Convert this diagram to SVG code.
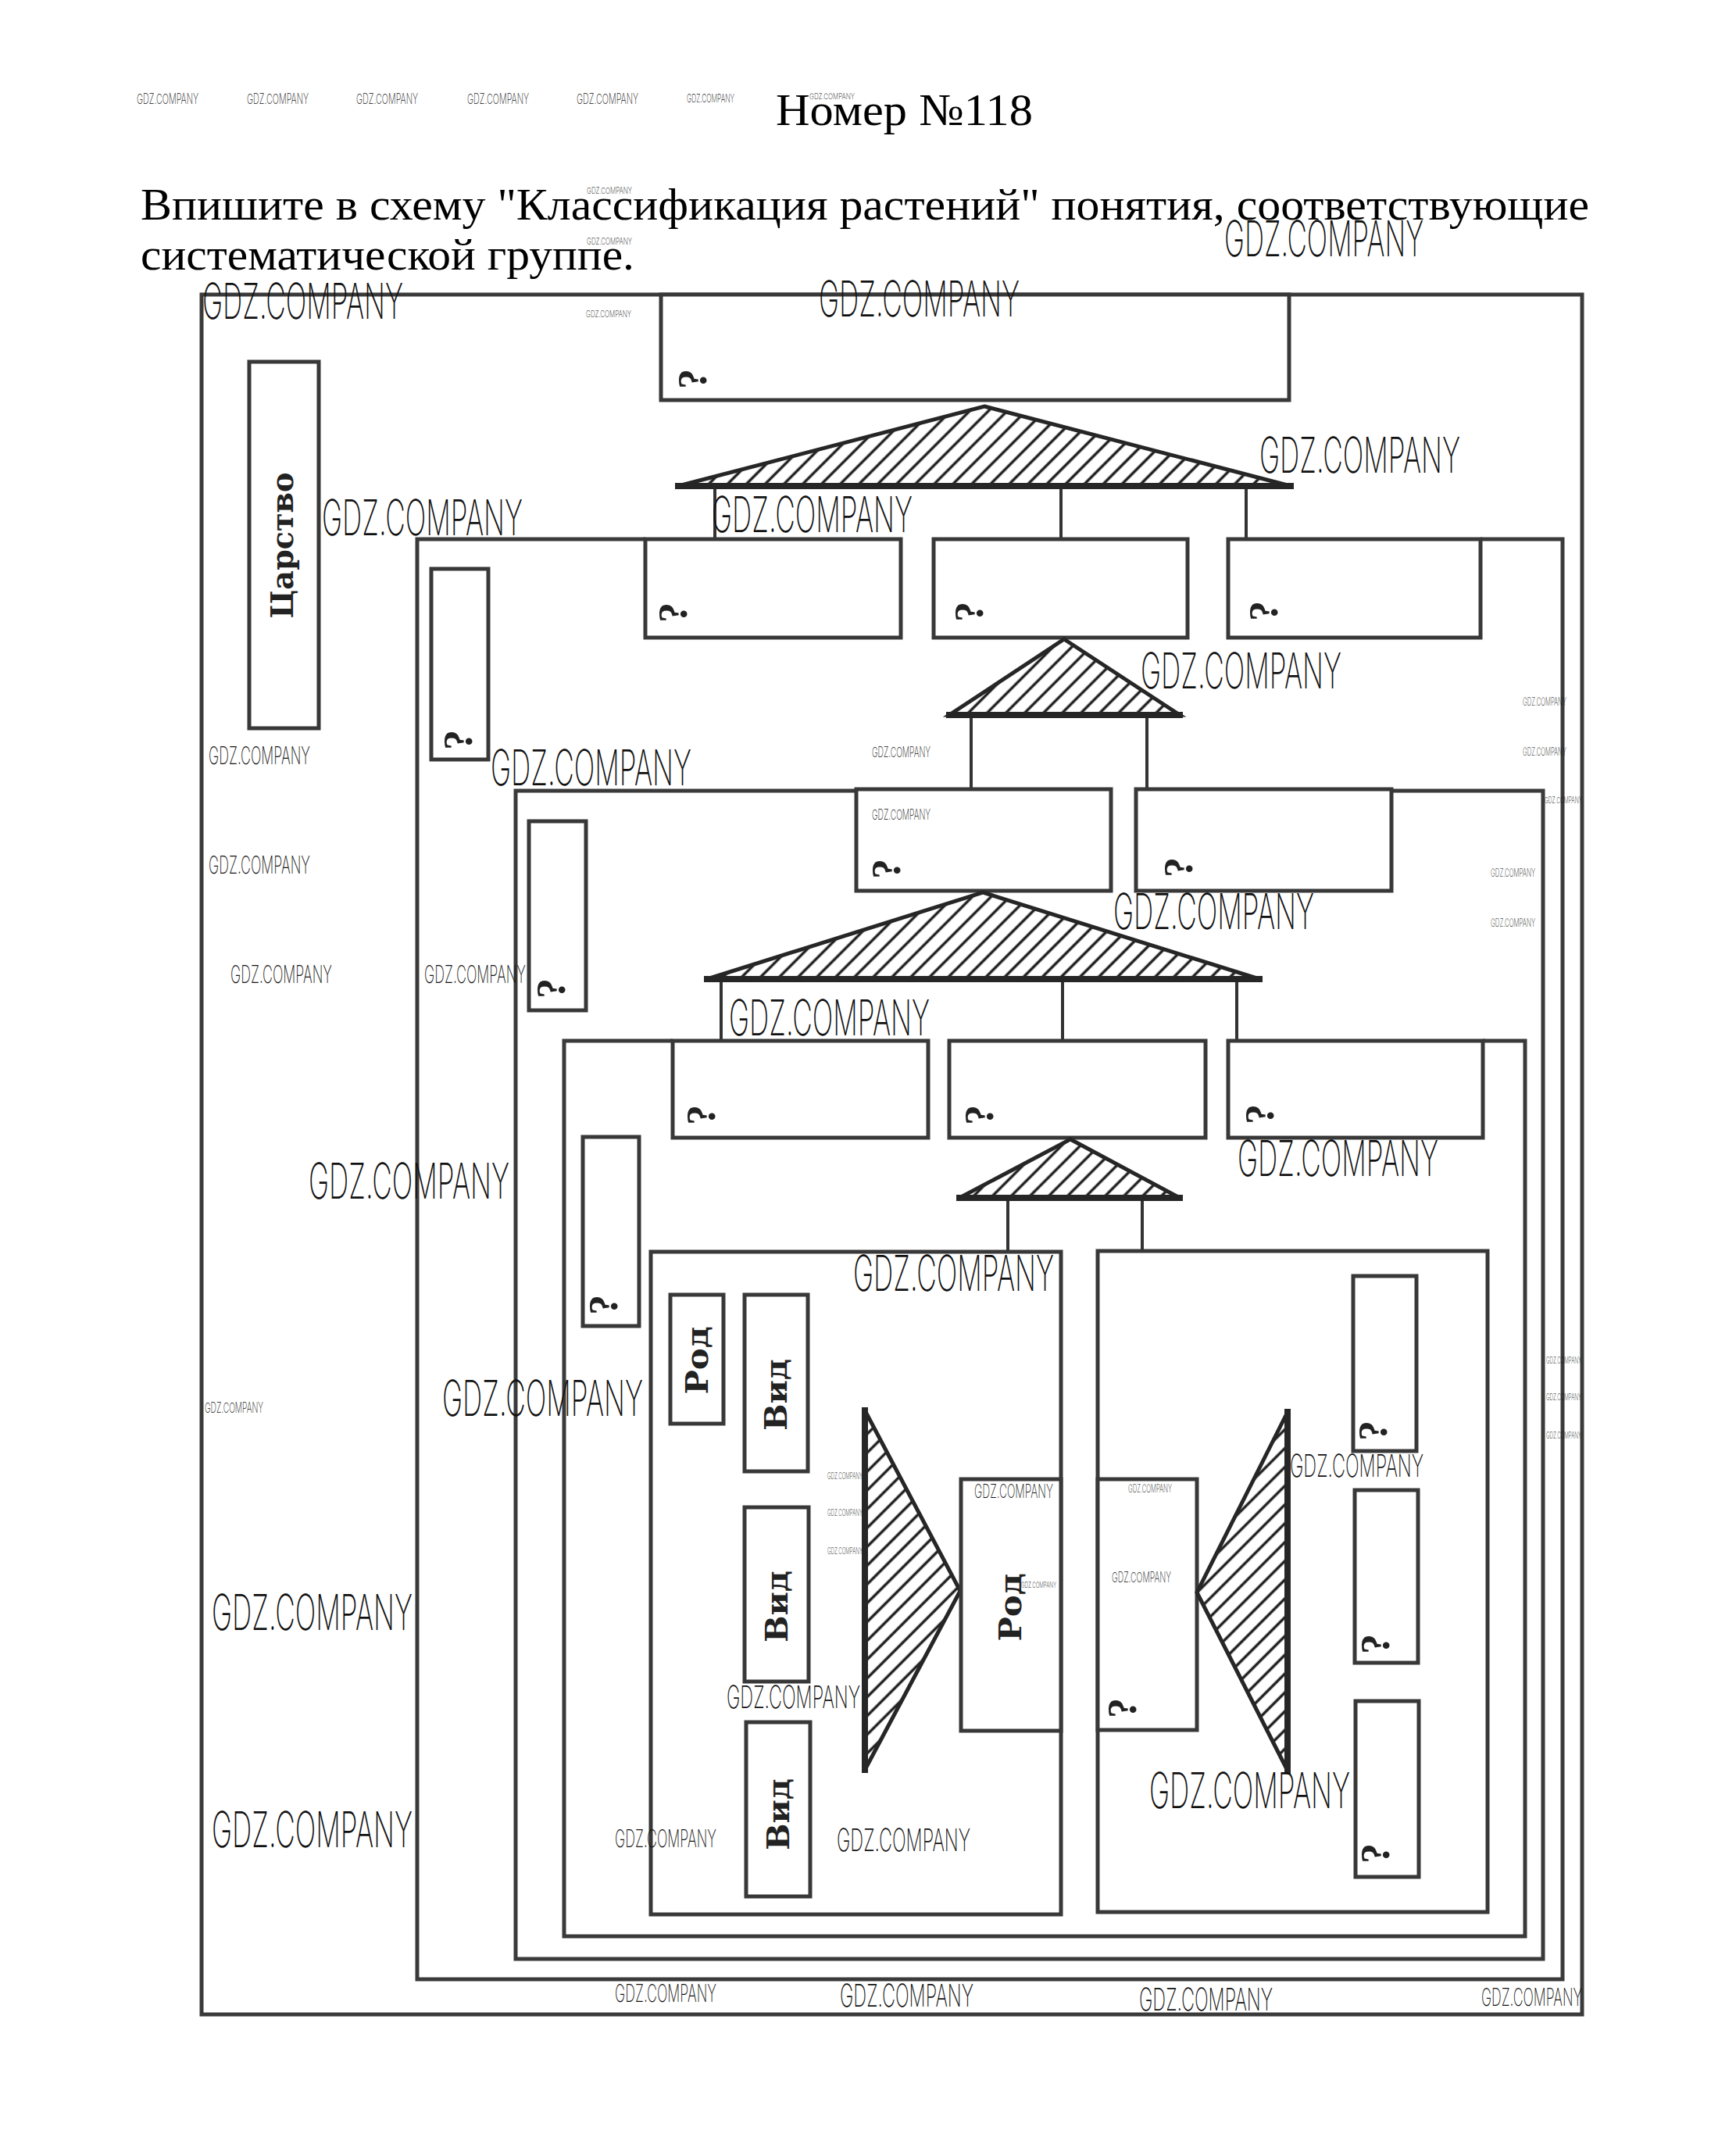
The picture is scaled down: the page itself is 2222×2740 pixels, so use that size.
<svg xmlns="http://www.w3.org/2000/svg" width="2222" height="2740" viewBox="0 0 2222 2740">
<defs>
<style>
.frame{fill:none;stroke:#3a3a3a;stroke-width:5}
.box{fill:#fff;stroke:#383838;stroke-width:5}
.conn{fill:none;stroke:#333;stroke-width:4}
.tri{fill:url(#hatch);stroke:#262626;stroke-width:5;stroke-linejoin:miter}
.base{stroke:#262626;stroke-width:8}
.q{font-family:"Liberation Serif","Times New Roman",serif;font-weight:bold;font-size:52px;fill:#222}
.lbl{font-family:"DejaVu Serif","Liberation Serif",serif;font-weight:bold;font-size:40px;fill:#222}
.h{font-family:"Liberation Serif","Times New Roman",serif;fill:#000}
.wm{font-family:Inter,"Liberation Sans",Arial,sans-serif;font-weight:200;fill:#111}
.wl{font-size:63px}
.wmd{font-size:40px}
.ws{font-size:31px}
.wt{font-size:18px}
.wx{font-size:12px}
</style>
<pattern id="hatch" patternUnits="userSpaceOnUse" width="17" height="17" patternTransform="rotate(45)">
<line x1="8.5" y1="-2" x2="8.5" y2="19" stroke="#222" stroke-width="3.5"/>
</pattern>
</defs>
<rect width="2222" height="2740" fill="#fff"/>

<g id="heading">
<text class="h" x="993" y="160" font-size="58" textLength="329" lengthAdjust="spacingAndGlyphs">Номер №118</text>
<text class="h" x="180" y="281" font-size="57" textLength="1854" lengthAdjust="spacingAndGlyphs">Впишите в схему "Классификация растений" понятия, соответствующие</text>
<text class="h" x="180" y="345" font-size="57" textLength="632" lengthAdjust="spacingAndGlyphs">систематической группе.</text>
</g>

<g id="frames">
<rect id="frame-kingdom" class="frame" x="258" y="377" width="1767" height="2201"/>
<path id="frame-1" class="frame" d="M826 690 H534 V2533 H2000 V690 H1895"/>
<path id="frame-2" class="frame" d="M1096 1012 H660 V2507 H1975 V1012 H1781"/>
<path id="frame-3" class="frame" d="M861 1332 H722 V2478 H1952 V1332 H1898"/>
</g>

<g id="connectors">
<line class="conn" x1="915" y1="622" x2="915" y2="690"/>
<line class="conn" x1="1358" y1="622" x2="1358" y2="690"/>
<line class="conn" x1="1595" y1="622" x2="1595" y2="690"/>
<line class="conn" x1="1243" y1="915" x2="1243" y2="1010"/>
<line class="conn" x1="1468" y1="915" x2="1468" y2="1010"/>
<line class="conn" x1="923" y1="1253" x2="923" y2="1332"/>
<line class="conn" x1="1360" y1="1253" x2="1360" y2="1332"/>
<line class="conn" x1="1583" y1="1253" x2="1583" y2="1332"/>
<line class="conn" x1="1290" y1="1533" x2="1290" y2="1602"/>
<line class="conn" x1="1462" y1="1533" x2="1462" y2="1601"/>
<line class="conn" x1="1034" y1="1848" x2="1107" y2="1848"/>
<line class="conn" x1="1035" y1="2041" x2="1107" y2="2041"/>
<line class="conn" x1="1037" y1="2233" x2="1107" y2="2233"/>
<line class="conn" x1="1648" y1="1844" x2="1732" y2="1844"/>
<line class="conn" x1="1648" y1="2038" x2="1734" y2="2038"/>
<line class="conn" x1="1648" y1="2233" x2="1735" y2="2233"/>
</g>

<g id="kingdom">
<rect class="box" x="319" y="463" width="89" height="469"/>
<text class="lbl" transform="translate(361,698) rotate(-90)" text-anchor="middle" dy="0.36em" textLength="187" lengthAdjust="spacingAndGlyphs">Царство</text>
</g>

<g id="box-top">
<rect class="box" x="846" y="377" width="804" height="135"/>
<text class="q" transform="translate(886,485) rotate(-90)" text-anchor="middle" dy="0.34em">?</text>
</g>

<g id="tri-1">
<polygon class="tri" points="1260,520 1652,622 868,622"/>
<line class="base" x1="864" y1="622" x2="1656" y2="622"/>
</g>

<g id="box-a"><rect class="box" x="826" y="690" width="327" height="126"/><text class="q" transform="translate(861,784) rotate(-90)" text-anchor="middle" dy="0.34em">?</text></g>
<g id="box-b"><rect class="box" x="1195" y="690" width="325" height="126"/><text class="q" transform="translate(1240,783) rotate(-90)" text-anchor="middle" dy="0.34em">?</text></g>
<g id="box-c"><rect class="box" x="1572" y="690" width="323" height="126"/><text class="q" transform="translate(1617,782) rotate(-90)" text-anchor="middle" dy="0.34em">?</text></g>

<g id="side-1"><rect class="box" x="552" y="728" width="73" height="244"/><text class="q" transform="translate(586,947) rotate(-90)" text-anchor="middle" dy="0.34em">?</text></g>

<g id="tri-2">
<polygon class="tri" points="1362,818 1510,915 1215,915"/>
<line class="base" x1="1211" y1="915" x2="1514" y2="915"/>
</g>

<g id="box-d"><rect class="box" x="1096" y="1010" width="326" height="130"/><text class="q" transform="translate(1134,1112) rotate(-90)" text-anchor="middle" dy="0.34em">?</text></g>
<g id="box-e"><rect class="box" x="1454" y="1010" width="327" height="130"/><text class="q" transform="translate(1508,1110) rotate(-90)" text-anchor="middle" dy="0.34em">?</text></g>

<g id="side-2"><rect class="box" x="677" y="1051" width="73" height="242"/><text class="q" transform="translate(705,1265) rotate(-90)" text-anchor="middle" dy="0.34em">?</text></g>

<g id="tri-3">
<polygon class="tri" points="1258,1142 1612,1253 905,1253"/>
<line class="base" x1="901" y1="1253" x2="1616" y2="1253"/>
</g>

<g id="box-f"><rect class="box" x="861" y="1332" width="327" height="124"/><text class="q" transform="translate(897,1427) rotate(-90)" text-anchor="middle" dy="0.34em">?</text></g>
<g id="box-g"><rect class="box" x="1215" y="1332" width="328" height="124"/><text class="q" transform="translate(1253,1427) rotate(-90)" text-anchor="middle" dy="0.34em">?</text></g>
<g id="box-h"><rect class="box" x="1572" y="1332" width="326" height="124"/><text class="q" transform="translate(1612,1426) rotate(-90)" text-anchor="middle" dy="0.34em">?</text></g>

<g id="side-3"><rect class="box" x="746" y="1455" width="72" height="242"/><text class="q" transform="translate(772,1670) rotate(-90)" text-anchor="middle" dy="0.34em">?</text></g>

<g id="tri-4">
<polygon class="tri" points="1370,1458 1510,1533 1228,1533"/>
<line class="base" x1="1224" y1="1533" x2="1514" y2="1533"/>
</g>

<g id="genus-left">
<rect class="box" x="833" y="1602" width="525" height="848"/>
</g>
<g id="genus-right">
<rect class="box" x="1405" y="1601" width="499" height="846"/>
</g>

<g id="rod-small"><rect class="box" x="858" y="1657" width="68" height="165"/><text class="lbl" transform="translate(892,1741) rotate(-90)" text-anchor="middle" dy="0.36em" textLength="87" lengthAdjust="spacingAndGlyphs">Род</text></g>
<g id="vid-1"><rect class="box" x="953" y="1657" width="81" height="226"/><text class="lbl" transform="translate(993,1785) rotate(-90)" text-anchor="middle" dy="0.36em" textLength="92" lengthAdjust="spacingAndGlyphs">Вид</text></g>
<g id="vid-2"><rect class="box" x="953" y="1929" width="82" height="223"/><text class="lbl" transform="translate(994,2056) rotate(-90)" text-anchor="middle" dy="0.36em" textLength="92" lengthAdjust="spacingAndGlyphs">Вид</text></g>
<g id="vid-3"><rect class="box" x="955" y="2204" width="82" height="223"/><text class="lbl" transform="translate(996,2322) rotate(-90)" text-anchor="middle" dy="0.36em" textLength="92" lengthAdjust="spacingAndGlyphs">Вид</text></g>

<g id="tri-5">
<polygon class="tri" points="1107,1805 1229,2036 1107,2265"/>
<line class="base" x1="1107" y1="1801" x2="1107" y2="2269"/>
</g>

<g id="rod-big"><rect class="box" x="1230" y="1893" width="128" height="322"/><text class="lbl" transform="translate(1293,2057) rotate(-90)" text-anchor="middle" dy="0.36em" textLength="87" lengthAdjust="spacingAndGlyphs">Род</text></g>

<g id="q-big"><rect class="box" x="1405" y="1893" width="127" height="321"/><text class="q" transform="translate(1436,2186) rotate(-90)" text-anchor="middle" dy="0.34em">?</text></g>

<g id="tri-6">
<polygon class="tri" points="1648,1807 1648,2266 1532,2038"/>
<line class="base" x1="1648" y1="1803" x2="1648" y2="2270"/>
</g>

<g id="r-1"><rect class="box" x="1732" y="1633" width="81" height="224"/><text class="q" transform="translate(1757,1831) rotate(-90)" text-anchor="middle" dy="0.34em">?</text></g>
<g id="r-2"><rect class="box" x="1734" y="1907" width="81" height="221"/><text class="q" transform="translate(1760,2104) rotate(-90)" text-anchor="middle" dy="0.34em">?</text></g>
<g id="r-3"><rect class="box" x="1735" y="2177" width="81" height="225"/><text class="q" transform="translate(1760,2372) rotate(-90)" text-anchor="middle" dy="0.34em">?</text></g>

<g id="watermarks" class="wm">
<text class="wl" x="259" y="408" textLength="257" lengthAdjust="spacingAndGlyphs">GDZ.COMPANY</text>
<text class="wl" x="1048" y="405" textLength="257" lengthAdjust="spacingAndGlyphs">GDZ.COMPANY</text>
<text class="wl" x="1567" y="328" textLength="255" lengthAdjust="spacingAndGlyphs">GDZ.COMPANY</text>
<text class="wl" x="1612" y="605" textLength="257" lengthAdjust="spacingAndGlyphs">GDZ.COMPANY</text>
<text class="wl" x="412" y="685" textLength="257" lengthAdjust="spacingAndGlyphs">GDZ.COMPANY</text>
<text class="wl" x="911" y="681" textLength="257" lengthAdjust="spacingAndGlyphs">GDZ.COMPANY</text>
<text class="wl" x="1460" y="881" textLength="257" lengthAdjust="spacingAndGlyphs">GDZ.COMPANY</text>
<text class="wl" x="628" y="1005" textLength="257" lengthAdjust="spacingAndGlyphs">GDZ.COMPANY</text>
<text class="wl" x="1425" y="1189" textLength="257" lengthAdjust="spacingAndGlyphs">GDZ.COMPANY</text>
<text class="wl" x="933" y="1325" textLength="257" lengthAdjust="spacingAndGlyphs">GDZ.COMPANY</text>
<text class="wl" x="395" y="1534" textLength="257" lengthAdjust="spacingAndGlyphs">GDZ.COMPANY</text>
<text class="wl" x="1584" y="1505" textLength="257" lengthAdjust="spacingAndGlyphs">GDZ.COMPANY</text>
<text class="wl" x="1092" y="1652" textLength="257" lengthAdjust="spacingAndGlyphs">GDZ.COMPANY</text>
<text class="wl" x="566" y="1812" textLength="257" lengthAdjust="spacingAndGlyphs">GDZ.COMPANY</text>
<text class="wl" x="271" y="2086" textLength="257" lengthAdjust="spacingAndGlyphs">GDZ.COMPANY</text>
<text class="wl" x="271" y="2364" textLength="257" lengthAdjust="spacingAndGlyphs">GDZ.COMPANY</text>
<text class="wl" x="1471" y="2314" textLength="257" lengthAdjust="spacingAndGlyphs">GDZ.COMPANY</text>
<text class="wmd" x="1651" y="1890" textLength="171" lengthAdjust="spacingAndGlyphs">GDZ.COMPANY</text>
<text class="wmd" x="930" y="2186" textLength="171" lengthAdjust="spacingAndGlyphs">GDZ.COMPANY</text>
<text class="wmd" x="1071" y="2369" textLength="171" lengthAdjust="spacingAndGlyphs">GDZ.COMPANY</text>
<text class="wmd" x="1075" y="2568" textLength="171" lengthAdjust="spacingAndGlyphs">GDZ.COMPANY</text>
<text class="wmd" x="1458" y="2573" textLength="171" lengthAdjust="spacingAndGlyphs">GDZ.COMPANY</text>
<text class="ws" x="267" y="978" textLength="130" lengthAdjust="spacingAndGlyphs">GDZ.COMPANY</text>
<text class="ws" x="267" y="1118" textLength="130" lengthAdjust="spacingAndGlyphs">GDZ.COMPANY</text>
<text class="ws" x="295" y="1258" textLength="130" lengthAdjust="spacingAndGlyphs">GDZ.COMPANY</text>
<text class="ws" x="543" y="1258" textLength="130" lengthAdjust="spacingAndGlyphs">GDZ.COMPANY</text>
<text class="ws" x="787" y="2364" textLength="130" lengthAdjust="spacingAndGlyphs">GDZ.COMPANY</text>
<text class="ws" x="787" y="2562" textLength="130" lengthAdjust="spacingAndGlyphs">GDZ.COMPANY</text>
<text class="ws" x="1896" y="2567" textLength="129" lengthAdjust="spacingAndGlyphs">GDZ.COMPANY</text>
<text x="1247" y="1917" font-size="24" textLength="101" lengthAdjust="spacingAndGlyphs">GDZ.COMPANY</text>
<text class="wt" x="1423" y="2025" textLength="76" lengthAdjust="spacingAndGlyphs">GDZ.COMPANY</text>
<text class="wt" x="1116" y="969" textLength="75" lengthAdjust="spacingAndGlyphs">GDZ.COMPANY</text>
<text class="wt" x="1116" y="1049" textLength="75" lengthAdjust="spacingAndGlyphs">GDZ.COMPANY</text>
<text class="wt" x="262" y="1808" textLength="75" lengthAdjust="spacingAndGlyphs">GDZ.COMPANY</text>
<text class="wt" x="175" y="133" textLength="79" lengthAdjust="spacingAndGlyphs">GDZ.COMPANY</text>
<text class="wt" x="316" y="133" textLength="79" lengthAdjust="spacingAndGlyphs">GDZ.COMPANY</text>
<text class="wt" x="456" y="133" textLength="79" lengthAdjust="spacingAndGlyphs">GDZ.COMPANY</text>
<text class="wt" x="598" y="133" textLength="79" lengthAdjust="spacingAndGlyphs">GDZ.COMPANY</text>
<text class="wt" x="738" y="133" textLength="79" lengthAdjust="spacingAndGlyphs">GDZ.COMPANY</text>
<text x="879" y="131" font-size="15" textLength="61" lengthAdjust="spacingAndGlyphs">GDZ.COMPANY</text>
<text x="1036" y="127" font-size="10" textLength="58" lengthAdjust="spacingAndGlyphs">GDZ.COMPANY</text>
<text x="1949" y="903" font-size="14" textLength="56" lengthAdjust="spacingAndGlyphs">GDZ.COMPANY</text>
<text x="1949" y="967" font-size="14" textLength="56" lengthAdjust="spacingAndGlyphs">GDZ.COMPANY</text>
<text x="1977" y="1028" font-size="11" textLength="48" lengthAdjust="spacingAndGlyphs">GDZ.COMPANY</text>
<text x="1908" y="1122" font-size="14" textLength="57" lengthAdjust="spacingAndGlyphs">GDZ.COMPANY</text>
<text x="1908" y="1186" font-size="14" textLength="57" lengthAdjust="spacingAndGlyphs">GDZ.COMPANY</text>
<text x="1444" y="1910" font-size="14" textLength="56" lengthAdjust="spacingAndGlyphs">GDZ.COMPANY</text>
<text x="751" y="248" font-size="11" textLength="58" lengthAdjust="spacingAndGlyphs">GDZ.COMPANY</text>
<text x="751" y="313" font-size="12" textLength="58" lengthAdjust="spacingAndGlyphs">GDZ.COMPANY</text>
<text x="750" y="406" font-size="12" textLength="58" lengthAdjust="spacingAndGlyphs">GDZ.COMPANY</text>
<text x="1307" y="2032" font-size="10" textLength="45" lengthAdjust="spacingAndGlyphs">GDZ.COMPANY</text>
<text class="wx" x="1059" y="1893" textLength="45" lengthAdjust="spacingAndGlyphs">GDZ.COMPANY</text>
<text class="wx" x="1059" y="1940" textLength="45" lengthAdjust="spacingAndGlyphs">GDZ.COMPANY</text>
<text class="wx" x="1059" y="1989" textLength="45" lengthAdjust="spacingAndGlyphs">GDZ.COMPANY</text>
<text class="wx" x="1979" y="1745" textLength="45" lengthAdjust="spacingAndGlyphs">GDZ.COMPANY</text>
<text class="wx" x="1979" y="1792" textLength="45" lengthAdjust="spacingAndGlyphs">GDZ.COMPANY</text>
<text class="wx" x="1979" y="1841" textLength="45" lengthAdjust="spacingAndGlyphs">GDZ.COMPANY</text>
</g>
</svg>
